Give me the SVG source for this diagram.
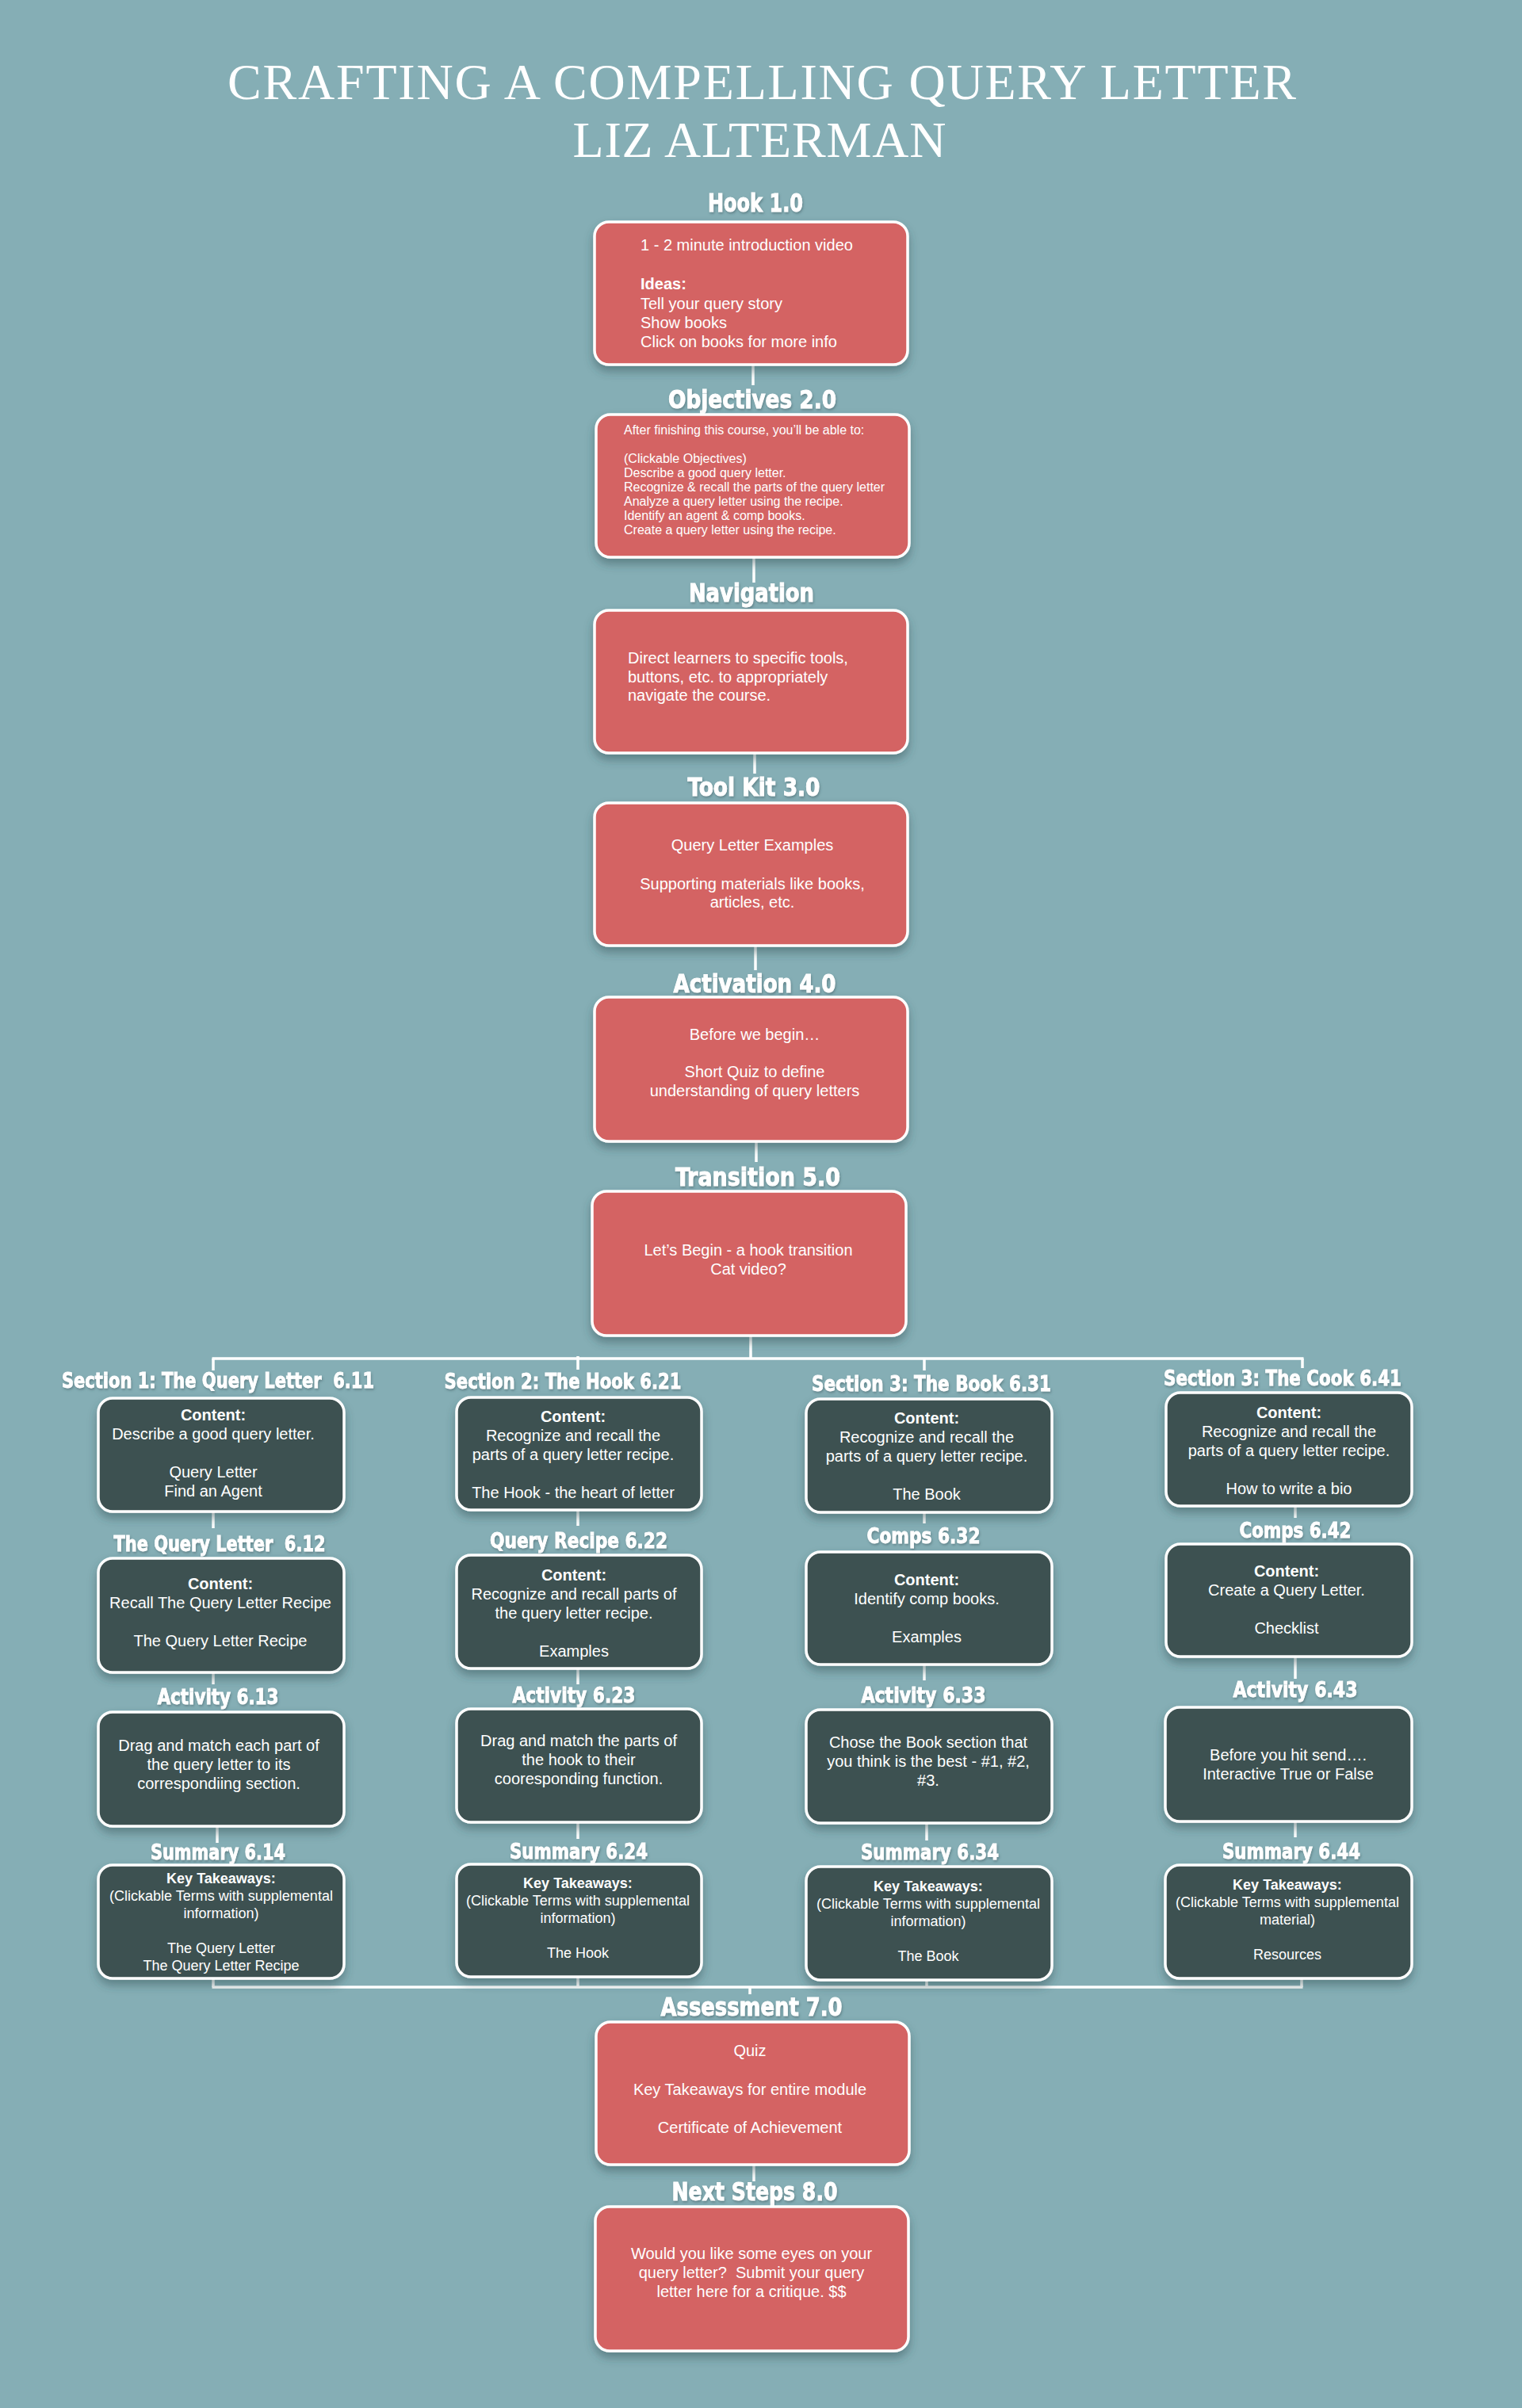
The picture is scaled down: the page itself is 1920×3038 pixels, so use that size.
<svg xmlns="http://www.w3.org/2000/svg" width="1920" height="3038" viewBox="0 0 1920 3038">
<defs>
<filter id="sh" x="-10%" y="-10%" width="120%" height="130%">
<feDropShadow dx="0" dy="7" stdDeviation="6" flood-color="#2c4a50" flood-opacity="0.45"/>
</filter>
<filter id="tsh" x="-5%" y="-20%" width="110%" height="150%">
<feDropShadow dx="1" dy="2" stdDeviation="1.5" flood-color="#3a5a60" flood-opacity="0.5"/>
</filter>
</defs>
<style>
.bg{fill:#85aeb5}
.red{fill:#d46363;stroke:#ffffff;stroke-width:3.5;filter:url(#sh)}
.dark{fill:#3e5151;stroke:#ffffff;stroke-width:3.5;filter:url(#sh)}
.conn line{stroke:#ffffff;stroke-width:3.5;fill:none}
.title{font-family:"Liberation Serif","Times New Roman",serif;font-size:64px;fill:#ffffff;text-anchor:middle}
.h1{font-family:"Liberation Sans Narrow","DejaVu Sans Condensed","Liberation Sans",sans-serif;font-weight:bold;font-size:32px;fill:#ffffff;stroke:#ffffff;stroke-width:0.9;text-anchor:middle;filter:url(#tsh)}
.h2{font-family:"Liberation Sans Narrow","DejaVu Sans Condensed","Liberation Sans",sans-serif;font-weight:bold;font-size:26px;fill:#ffffff;stroke:#ffffff;stroke-width:0.8;text-anchor:middle;filter:url(#tsh)}
.t{font-family:"Liberation Sans",Arial,sans-serif;font-size:20px;fill:#ffffff}
.tc{font-family:"Liberation Sans",Arial,sans-serif;font-size:20px;fill:#ffffff;text-anchor:middle}
.ts{font-family:"Liberation Sans",Arial,sans-serif;font-size:16px;fill:#ffffff}
.tk{font-family:"Liberation Sans",Arial,sans-serif;font-size:18px;fill:#ffffff;text-anchor:middle}
.b{font-weight:bold}
</style>
<rect class="bg" x="0" y="0" width="1920" height="3038"/>

<g id="title">
<text class="title" x="961" y="125" textLength="1348" lengthAdjust="spacing">CRAFTING A COMPELLING QUERY LETTER</text>
<text class="title" x="958" y="198" textLength="471" lengthAdjust="spacing">LIZ ALTERMAN</text>
</g>

<g id="connectors" class="conn">
<line x1="950" y1="460" x2="950" y2="486"/>
<line x1="951" y1="703" x2="951" y2="735"/>
<line x1="952" y1="950" x2="952" y2="976"/>
<line x1="953" y1="1193" x2="953" y2="1224"/>
<line x1="954" y1="1440" x2="954" y2="1466"/>
<line x1="947" y1="1685" x2="947" y2="1714"/>
<line x1="267.5" y1="1714" x2="1644.5" y2="1714"/>
<line x1="269" y1="1714" x2="269" y2="1729"/>
<line x1="729" y1="1711" x2="729" y2="1728"/>
<line x1="1166" y1="1714" x2="1166" y2="1729"/>
<line x1="1643" y1="1714" x2="1643" y2="1726"/>
<line x1="269" y1="1907" x2="269" y2="1928"/>
<line x1="269" y1="2110" x2="269" y2="2125"/>
<line x1="274" y1="2304" x2="274" y2="2325"/>
<line x1="269" y1="2496" x2="269" y2="2507"/>
<line x1="729" y1="1905" x2="729" y2="1925"/>
<line x1="729" y1="2105" x2="729" y2="2125"/>
<line x1="729" y1="2299" x2="729" y2="2320"/>
<line x1="729" y1="2494" x2="729" y2="2507"/>
<line x1="1166" y1="1908" x2="1166" y2="1922"/>
<line x1="1166" y1="2100" x2="1166" y2="2120"/>
<line x1="1169" y1="2300" x2="1169" y2="2322"/>
<line x1="1169" y1="2498" x2="1169" y2="2507"/>
<line x1="1634" y1="1900" x2="1634" y2="1915"/>
<line x1="1634" y1="2090" x2="1634" y2="2118"/>
<line x1="1634" y1="2298" x2="1634" y2="2318"/>
<line x1="1642" y1="2496" x2="1642" y2="2507"/>
<line x1="267.5" y1="2507" x2="1643.5" y2="2507"/>
<line x1="946" y1="2507" x2="946" y2="2516"/>
<line x1="951" y1="2731" x2="951" y2="2752"/>
</g>

<g id="hook">
<text class="h1" x="953" y="267" textLength="120" lengthAdjust="spacingAndGlyphs">Hook 1.0</text>
<rect class="red" x="750" y="280" width="395" height="180" rx="18"/>
<text class="t" x="808" y="316">1 - 2 minute introduction video</text>
<text class="t b" x="808" y="365">Ideas:</text>
<text class="t" x="808" y="390">Tell your query story</text>
<text class="t" x="808" y="414">Show books</text>
<text class="t" x="808" y="438">Click on books for more info</text>
</g>

<g id="objectives">
<text class="h1" x="949" y="515" textLength="212" lengthAdjust="spacingAndGlyphs">Objectives 2.0</text>
<rect class="red" x="752" y="523" width="395" height="180" rx="18"/>
<text class="ts" x="787" y="548">After finishing this course, you’ll be able to:</text>
<text class="ts" x="787" y="584">(Clickable Objectives)</text>
<text class="ts" x="787" y="602">Describe a good query letter.</text>
<text class="ts" x="787" y="620">Recognize &amp; recall the parts of the query letter</text>
<text class="ts" x="787" y="638">Analyze a query letter using the recipe.</text>
<text class="ts" x="787" y="656">Identify an agent &amp; comp books.</text>
<text class="ts" x="787" y="674">Create a query letter using the recipe.</text>
</g>

<g id="navigation">
<text class="h1" x="948" y="759" textLength="158" lengthAdjust="spacingAndGlyphs">Navigation</text>
<rect class="red" x="750" y="770" width="395" height="180" rx="18"/>
<text class="t" x="792" y="837">Direct learners to specific tools,</text>
<text class="t" x="792" y="861">buttons, etc. to appropriately</text>
<text class="t" x="792" y="884">navigate the course.</text>
</g>

<g id="toolkit">
<text class="h1" x="951" y="1004" textLength="167" lengthAdjust="spacingAndGlyphs">Tool Kit 3.0</text>
<rect class="red" x="750" y="1013" width="395" height="180" rx="18"/>
<text class="tc" x="949" y="1073">Query Letter Examples</text>
<text class="tc" x="949" y="1122">Supporting materials like books,</text>
<text class="tc" x="949" y="1145">articles, etc.</text>
</g>

<g id="activation">
<text class="h1" x="952" y="1252" textLength="205" lengthAdjust="spacingAndGlyphs">Activation 4.0</text>
<rect class="red" x="750" y="1258" width="395" height="182" rx="18"/>
<text class="tc" x="952" y="1312">Before we begin…</text>
<text class="tc" x="952" y="1359">Short Quiz to define</text>
<text class="tc" x="952" y="1383">understanding of query letters</text>
</g>

<g id="transition">
<text class="h1" x="956" y="1496" textLength="208" lengthAdjust="spacingAndGlyphs">Transition 5.0</text>
<rect class="red" x="747" y="1503" width="396" height="182" rx="18"/>
<text class="tc" x="944" y="1584">Let’s Begin - a hook transition</text>
<text class="tc" x="944" y="1608">Cat video?</text>
</g>

<g id="s611">
<text class="h2" x="275" y="1751" textLength="394" lengthAdjust="spacingAndGlyphs" xml:space="preserve">Section 1: The Query Letter  6.11</text>
<rect class="dark" x="124" y="1764" width="310" height="143" rx="18"/>
<text class="tc b" x="269" y="1792">Content:</text>
<text class="tc" x="269" y="1816">Describe a good query letter.</text>
<text class="tc" x="269" y="1864">Query Letter</text>
<text class="tc" x="269" y="1888">Find an Agent</text>
</g>

<g id="s612">
<text class="h2" x="277" y="1957" textLength="267" lengthAdjust="spacingAndGlyphs" xml:space="preserve">The Query Letter  6.12</text>
<rect class="dark" x="124" y="1966" width="310" height="144" rx="18"/>
<text class="tc b" x="278" y="2005">Content:</text>
<text class="tc" x="278" y="2029">Recall The Query Letter Recipe</text>
<text class="tc" x="278" y="2077">The Query Letter Recipe</text>
</g>

<g id="s613">
<text class="h2" x="275" y="2150" textLength="153" lengthAdjust="spacingAndGlyphs">Activity 6.13</text>
<rect class="dark" x="124" y="2160" width="310" height="144" rx="18"/>
<text class="tc" x="276" y="2209">Drag and match each part of</text>
<text class="tc" x="276" y="2233">the query letter to its</text>
<text class="tc" x="276" y="2257">correspondiing section.</text>
</g>

<g id="s614">
<text class="h2" x="275" y="2346" textLength="170" lengthAdjust="spacingAndGlyphs">Summary 6.14</text>
<rect class="dark" x="124" y="2353" width="310" height="143" rx="18"/>
<text class="tk b" x="279" y="2376">Key Takeaways:</text>
<text class="tk" x="279" y="2398">(Clickable Terms with supplemental</text>
<text class="tk" x="279" y="2420">information)</text>
<text class="tk" x="279" y="2464">The Query Letter</text>
<text class="tk" x="279" y="2486">The Query Letter Recipe</text>
</g>

<g id="s621">
<text class="h2" x="710" y="1752" textLength="299" lengthAdjust="spacingAndGlyphs">Section 2: The Hook 6.21</text>
<rect class="dark" x="576" y="1763" width="309" height="142" rx="18"/>
<text class="tc b" x="723" y="1794">Content:</text>
<text class="tc" x="723" y="1818">Recognize and recall the</text>
<text class="tc" x="723" y="1842">parts of a query letter recipe.</text>
<text class="tc" x="723" y="1890">The Hook - the heart of letter</text>
</g>

<g id="s622">
<text class="h2" x="730" y="1953" textLength="224" lengthAdjust="spacingAndGlyphs">Query Recipe 6.22</text>
<rect class="dark" x="576" y="1962" width="309" height="143" rx="18"/>
<text class="tc b" x="724" y="1994">Content:</text>
<text class="tc" x="724" y="2018">Recognize and recall parts of</text>
<text class="tc" x="724" y="2042">the query letter recipe.</text>
<text class="tc" x="724" y="2090">Examples</text>
</g>

<g id="s623">
<text class="h2" x="724" y="2148" textLength="155" lengthAdjust="spacingAndGlyphs">Activity 6.23</text>
<rect class="dark" x="576" y="2156" width="309" height="143" rx="18"/>
<text class="tc" x="730" y="2203">Drag and match the parts of</text>
<text class="tc" x="730" y="2227">the hook to their</text>
<text class="tc" x="730" y="2251">cooresponding function.</text>
</g>

<g id="s624">
<text class="h2" x="730" y="2345" textLength="174" lengthAdjust="spacingAndGlyphs">Summary 6.24</text>
<rect class="dark" x="576" y="2352" width="309" height="142" rx="18"/>
<text class="tk b" x="729" y="2382">Key Takeaways:</text>
<text class="tk" x="729" y="2404">(Clickable Terms with supplemental</text>
<text class="tk" x="729" y="2426">information)</text>
<text class="tk" x="729" y="2470">The Hook</text>
</g>

<g id="s631">
<text class="h2" x="1175" y="1755" textLength="302" lengthAdjust="spacingAndGlyphs">Section 3: The Book 6.31</text>
<rect class="dark" x="1017" y="1765" width="310" height="143" rx="18"/>
<text class="tc b" x="1169" y="1796">Content:</text>
<text class="tc" x="1169" y="1820">Recognize and recall the</text>
<text class="tc" x="1169" y="1844">parts of a query letter recipe.</text>
<text class="tc" x="1169" y="1892">The Book</text>
</g>

<g id="s632">
<text class="h2" x="1165" y="1947" textLength="143" lengthAdjust="spacingAndGlyphs">Comps 6.32</text>
<rect class="dark" x="1017" y="1958" width="310" height="142" rx="18"/>
<text class="tc b" x="1169" y="2000">Content:</text>
<text class="tc" x="1169" y="2024">Identify comp books.</text>
<text class="tc" x="1169" y="2072">Examples</text>
</g>

<g id="s633">
<text class="h2" x="1165" y="2148" textLength="157" lengthAdjust="spacingAndGlyphs">Activity 6.33</text>
<rect class="dark" x="1017" y="2157" width="310" height="143" rx="18"/>
<text class="tc" x="1171" y="2205">Chose the Book section that</text>
<text class="tc" x="1171" y="2229">you think is the best - #1, #2,</text>
<text class="tc" x="1171" y="2253">#3.</text>
</g>

<g id="s634">
<text class="h2" x="1173" y="2346" textLength="174" lengthAdjust="spacingAndGlyphs">Summary 6.34</text>
<rect class="dark" x="1017" y="2355" width="310" height="143" rx="18"/>
<text class="tk b" x="1171" y="2386">Key Takeaways:</text>
<text class="tk" x="1171" y="2408">(Clickable Terms with supplemental</text>
<text class="tk" x="1171" y="2430">information)</text>
<text class="tk" x="1171" y="2474">The Book</text>
</g>

<g id="s641">
<text class="h2" x="1618" y="1748" textLength="300" lengthAdjust="spacingAndGlyphs">Section 3: The Cook 6.41</text>
<rect class="dark" x="1471" y="1757" width="310" height="143" rx="18"/>
<text class="tc b" x="1626" y="1789">Content:</text>
<text class="tc" x="1626" y="1813">Recognize and recall the</text>
<text class="tc" x="1626" y="1837">parts of a query letter recipe.</text>
<text class="tc" x="1626" y="1885">How to write a bio</text>
</g>

<g id="s642">
<text class="h2" x="1634" y="1940" textLength="141" lengthAdjust="spacingAndGlyphs">Comps 6.42</text>
<rect class="dark" x="1471" y="1948" width="310" height="142" rx="18"/>
<text class="tc b" x="1623" y="1989">Content:</text>
<text class="tc" x="1623" y="2013">Create a Query Letter.</text>
<text class="tc" x="1623" y="2061">Checklist</text>
</g>

<g id="s643">
<text class="h2" x="1634" y="2141" textLength="157" lengthAdjust="spacingAndGlyphs">Activity 6.43</text>
<rect class="dark" x="1470" y="2154" width="311" height="144" rx="18"/>
<text class="tc" x="1625" y="2221">Before you hit send….</text>
<text class="tc" x="1625" y="2245">Interactive True or False</text>
</g>

<g id="s644">
<text class="h2" x="1629" y="2345" textLength="174" lengthAdjust="spacingAndGlyphs">Summary 6.44</text>
<rect class="dark" x="1470" y="2353" width="311" height="143" rx="18"/>
<text class="tk b" x="1624" y="2384">Key Takeaways:</text>
<text class="tk" x="1624" y="2406">(Clickable Terms with supplemental</text>
<text class="tk" x="1624" y="2428">material)</text>
<text class="tk" x="1624" y="2472">Resources</text>
</g>

<g id="assessment">
<text class="h1" x="948" y="2543" textLength="229" lengthAdjust="spacingAndGlyphs">Assessment 7.0</text>
<rect class="red" x="752" y="2551" width="395" height="180" rx="18"/>
<text class="tc" x="946" y="2594">Quiz</text>
<text class="tc" x="946" y="2643">Key Takeaways for entire module</text>
<text class="tc" x="946" y="2691">Certificate of Achievement</text>
</g>

<g id="nextsteps">
<text class="h1" x="952" y="2776" textLength="209" lengthAdjust="spacingAndGlyphs">Next Steps 8.0</text>
<rect class="red" x="751" y="2784" width="395" height="182" rx="18"/>
<text class="tc" x="948" y="2850">Would you like some eyes on your</text>
<text class="tc" x="948" y="2874" xml:space="preserve">query letter?  Submit your query</text>
<text class="tc" x="948" y="2898">letter here for a critique. $$</text>
</g>
</svg>
